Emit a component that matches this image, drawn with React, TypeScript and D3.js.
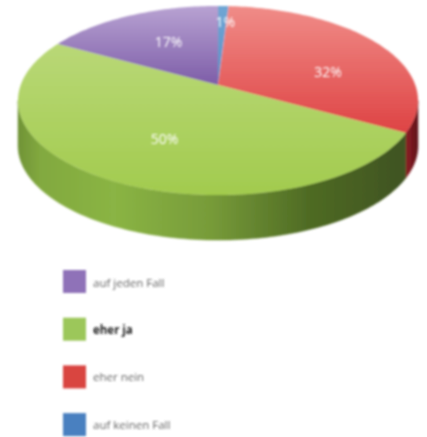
import React from "react";
import * as d3 from "d3";

// clockwise from 12 o'clock, as drawn on the pie
const pieCategories = ["auf keinen Fall", "eher nein", "eher ja", "auf jeden Fall"];
const pieValues = [1, 32, 50, 17];
const pieLabels = ["1%", "32%", "50%", "17%"];
const legendCategories = ["auf jeden Fall", "eher ja", "eher nein", "auf keinen Fall"];
const legendColors = ["#8f72b8", "#9cc75a", "#d9443f", "#4a80c0"];
const gradientTop = ["#6fa6d4", "#f08c88", "#b9d877", "#b8a2d2"];
const gradientBottom = ["#5c90c6", "#de4344", "#a2cb4e", "#7d5da8"];
const labelNudges = [[4, -13], [11, 12], [9, 1], [6, 0]];

const W = 427, H = 437;
const cx = 218, cy = 85, R = 197.3, S = 92, P = 0.164, DEPTH = 45;

// perspective projection of a point on the flat disc
const project = (theta: number, r = 1): [number, number] => {
  const u = r * Math.sin(theta), v = -r * Math.cos(theta);
  const w = 1 - P * v;
  return [cx + (R * u) / w, cy + (S * v) / w];
};
const sample = (a: number, b: number) => {
  const n = Math.max(2, Math.ceil(Math.abs(b - a) / 0.02));
  return d3.range(n + 1).map((i) => a + ((b - a) * i) / n);
};
const line = d3.line<[number, number]>().x((d) => d[0]).y((d) => d[1]);

const arcs = d3.pie<number>().sort(null)(pieValues);
const extreme = Math.acos(-P); // silhouette angle of the disc

const topPath = (a: number, b: number) =>
  line([[cx, cy], ...sample(a, b).map((t) => project(t))])! + "Z";
const sidePath = (a: number, b: number) => {
  const from = Math.max(a, extreme), to = Math.min(b, 2 * Math.PI - extreme);
  if (to <= from) return null;
  const upper = sample(from, to).map((t) => project(t));
  const lower = upper.slice().reverse().map(([x, y]): [number, number] => [x, y + DEPTH]);
  return line([...upper, ...lower])! + "Z";
};

export default function App() {
  return (
    <svg width={W} height={H} viewBox={`0 0 ${W} ${H}`}
      style={{ position: "absolute", left: 0, top: 0, background: "#fff" }}>
      <defs>
        <filter id="soft" x="-5%" y="-5%" width="110%" height="110%">
          <feGaussianBlur stdDeviation="1.1" />
        </filter>
        <filter id="softText" x="-20%" y="-20%" width="140%" height="140%">
          <feGaussianBlur stdDeviation="0.8" />
        </filter>
        <filter id="shadow" x="-10%" y="-10%" width="120%" height="120%">
          <feGaussianBlur stdDeviation="3" />
        </filter>
        {arcs.map((_, i) => (
          <linearGradient key={i} id={`top${i}`} x1="0" x2="0" y1="0" y2="1">
            <stop offset="0" stopColor={gradientTop[i]} />
            <stop offset="1" stopColor={gradientBottom[i]} />
          </linearGradient>
        ))}
        <linearGradient id="side2" gradientUnits="userSpaceOnUse" x1="17" x2="405" y1="0" y2="0">
          <stop offset="0" stopColor="#6f9236" />
          <stop offset="0.06" stopColor="#82a93f" />
          <stop offset="0.25" stopColor="#8ab444" />
          <stop offset="0.5" stopColor="#779b39" />
          <stop offset="0.75" stopColor="#4f6b24" />
          <stop offset="1" stopColor="#3f5320" />
        </linearGradient>
        <linearGradient id="side1" x1="0" x2="1" y1="0" y2="0">
          <stop offset="0" stopColor="#8e1f28" />
          <stop offset="1" stopColor="#5e1218" />
        </linearGradient>
      </defs>
      <g filter="url(#soft)">
        {arcs.map((a, i) => {
          const d = sidePath(a.startAngle, a.endAngle);
          return d ? <path key={i} d={d} fill={`url(#side${i})`} stroke={`url(#side${i})`} strokeWidth={0.5} /> : null;
        })}
        {arcs.map((a, i) => (
          <path key={i} d={topPath(a.startAngle, a.endAngle)} fill={`url(#top${i})`} />
        ))}
      </g>
      <g filter="url(#softText)" fontFamily="'Open Sans', sans-serif" fontSize={14} fill="#fff" textAnchor="middle" dominantBaseline="central">
        {arcs.map((a, i) => {
          const [x, y] = project((a.startAngle + a.endAngle) / 2, 0.6);
          return <text key={pieCategories[i]} x={x + labelNudges[i][0]} y={y + labelNudges[i][1]}>{pieLabels[i]}</text>;
        })}
      </g>
      <g filter="url(#soft)">
        {legendCategories.map((c, i) => (
          <rect key={c} x={63} y={270 + i * 47.7} width={23} height={23} fill={legendColors[i]} />
        ))}
      </g>
      <g filter="url(#softText)" fontFamily="'Open Sans', sans-serif" fontSize={11.5}>
        {legendCategories.map((c, i) => (
          <text key={c} x={93} y={282 + i * 47.4} dominantBaseline="central"
            fill={i === 1 ? "#222" : "#666"} fontWeight={i === 1 ? 700 : 400}>{c}</text>
        ))}
      </g>
    </svg>
  );
}
